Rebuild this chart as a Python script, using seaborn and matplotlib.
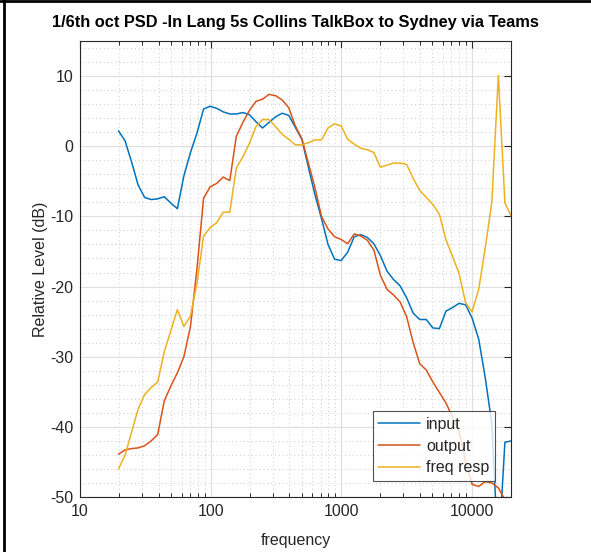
import numpy as np
import pandas as pd
import matplotlib
matplotlib.use("Agg")
import matplotlib.pyplot as plt
from matplotlib.lines import Line2D
from matplotlib.ticker import FixedLocator, FixedFormatter, NullFormatter
import seaborn as sns

# 1/6-octave band centre frequencies (Hz)
freq = [19.69, 22.10, 24.80, 27.84, 31.25, 35.08, 39.37, 44.19, 49.61, 55.68,
        62.50, 70.15, 78.75, 88.39, 99.21, 111.36, 125.0, 140.31, 157.49, 176.78,
        198.43, 222.72, 250.0, 280.62, 314.98, 353.55, 396.85, 445.45, 500.0, 561.23,
        629.96, 707.11, 793.70, 890.90, 1000.0, 1122.46, 1259.92, 1414.21, 1587.40, 1781.80,
        2000.0, 2244.92, 2519.84, 2828.43, 3174.80, 3563.59, 4000.0, 4489.85, 5039.68, 5656.85,
        6349.60, 7127.19, 8000.0, 8979.70, 10079.37, 11313.71, 12699.21, 14254.38, 16000.0, 17959.39,
        20158.74]

input_db = [2.2, 0.8, -2.2, -5.5, -7.3, -7.6, -7.5, -7.2, -8.1, -8.9,
            -4.2, -0.9, 1.9, 5.3, 5.7, 5.4, 4.9, 4.6, 4.6, 4.8,
            4.5, 3.5, 2.6, 3.4, 4.2, 4.7, 4.4, 2.7, 1.0, -3.0,
            -6.9, -10.3, -14.0, -16.1, -16.3, -15.1, -12.9, -12.6, -13.0, -13.9,
            -15.6, -17.8, -19.0, -19.9, -21.6, -23.8, -24.7, -24.7, -25.9, -26.0,
            -23.5, -23.0, -22.4, -22.6, -24.5, -27.5, -33.0, -39.5, -58.5, -42.2,
            -42.0]

output_db = [-43.9, -43.3, -43.1, -43.0, -42.7, -42.0, -41.1, -36.3, -34.2, -32.3,
             -30.0, -25.7, -17.4, -7.4, -5.8, -5.3, -4.4, -4.9, 1.4, 3.4,
             5.1, 6.4, 6.7, 7.4, 7.2, 6.6, 5.5, 2.9, 1.1, -2.4,
             -5.9, -10.0, -11.8, -12.9, -13.3, -13.9, -12.5, -12.8, -13.4, -14.8,
             -18.4, -20.4, -21.2, -22.2, -24.3, -28.0, -31.0, -31.9, -33.6, -35.1,
             -36.6, -38.6, -40.6, -44.9, -48.2, -48.5, -47.8, -48.0, -48.7, -50.4,
             -52.0]

freq_resp_db = [-46.0, -44.1, -40.8, -37.5, -35.4, -34.4, -33.6, -29.3, -26.3, -23.3,
                -25.7, -24.2, -19.5, -12.8, -11.6, -10.9, -9.4, -9.4, -3.1, -1.5,
                0.4, 2.8, 3.8, 3.8, 2.8, 1.7, 1.0, 0.2, 0.2, 0.5,
                0.9, 0.9, 2.6, 3.2, 2.9, 1.0, 0.3, -0.3, -0.5, -0.9,
                -3.0, -2.7, -2.4, -2.4, -2.6, -4.6, -6.3, -7.3, -8.3, -9.7,
                -13.3, -15.7, -18.1, -22.3, -23.6, -20.4, -14.5, -8.0, 10.1, -8.1,
                -10.0]

series_names = ["input", "output", "freq resp"]
series_colors = ["#0072BD", "#D95319", "#EDB120"]

x_ticks = [10, 100, 1000, 10000]
x_tick_labels = ["10", "100", "1000", "10000"]
y_ticks = [-50, -40, -30, -20, -10, 0, 10]

df = pd.concat([
    pd.DataFrame({"frequency": freq, "level": vals, "series": name})
    for name, vals in zip(series_names, [input_db, output_db, freq_resp_db])
], ignore_index=True)

sns.set_style("white")
plt.rcParams["font.family"] = ["Liberation Sans", "DejaVu Sans"]
plt.rcParams["axes.unicode_minus"] = False

ink = "#262626"
fig = plt.figure(figsize=(5.91, 5.52), dpi=100)
ax = fig.add_axes([80 / 591, 1 - 497 / 552, (511 - 80) / 591, (497 - 41) / 552])

sns.lineplot(data=df, x="frequency", y="level", hue="series",
             hue_order=series_names, palette=series_colors,
             linewidth=1.1, sort=False, estimator=None, ax=ax, legend=True)

ax.set_xscale("log")
ax.set_xlim(10, 20000)
ax.set_ylim(-50, 15)

ax.xaxis.set_major_locator(FixedLocator(x_ticks))
ax.xaxis.set_major_formatter(FixedFormatter(x_tick_labels))
minor_x = [m * d for d in [10, 100, 1000, 10000] for m in range(2, 10) if m * d <= 20000]
ax.xaxis.set_minor_locator(FixedLocator(minor_x))
ax.xaxis.set_minor_formatter(NullFormatter())
ax.yaxis.set_major_locator(FixedLocator(y_ticks))
ax.yaxis.set_minor_locator(FixedLocator(np.arange(-50, 15.1, 2)))

ax.grid(True, which="major", color="#e0e0e0", linewidth=0.9, linestyle="-")
ax.grid(True, which="minor", color="#cacaca", linewidth=0.7, linestyle=(0, (1, 3)))
ax.set_axisbelow(True)

ax.tick_params(which="major", direction="in", length=5, width=0.8, color=ink,
               top=True, right=True, labelsize=11.5, labelcolor=ink, pad=5)
ax.tick_params(axis="x", which="minor", direction="in", length=3, width=0.7,
               color=ink, top=True, bottom=True)
ax.tick_params(axis="y", which="minor", length=0, left=False, right=False)

for sp in ax.spines.values():
    sp.set_visible(True)
    sp.set_color(ink)
    sp.set_linewidth(0.8)

ax.set_xlabel("frequency", fontsize=11.5, color=ink, labelpad=10)
ax.set_ylabel("Relative Level (dB)", fontsize=11.5, color=ink, labelpad=1)
ax.set_title("1/6th oct PSD -In Lang 5s Collins TalkBox to Sydney via Teams",
             fontsize=11.8, fontweight="bold", color="black", pad=10)

leg = ax.legend(title=None, loc="lower right", fontsize=11.5, frameon=True,
                fancybox=False, handlelength=2.6, handletextpad=0.4,
                labelspacing=0.42, borderpad=0.35, borderaxespad=1.0)
leg.get_frame().set_edgecolor(ink)
leg.get_frame().set_linewidth(0.8)
for h in leg.get_lines():
    h.set_linewidth(1.1)

# frame lines along the left and top of the figure
fig.add_artist(Line2D([0.006, 0.006], [0, 1], transform=fig.transFigure,
                      color="black", linewidth=2))
fig.add_artist(Line2D([0, 1], [0.998, 0.998], transform=fig.transFigure,
                      color="black", linewidth=2))

fig.savefig("out.png", dpi=100)
